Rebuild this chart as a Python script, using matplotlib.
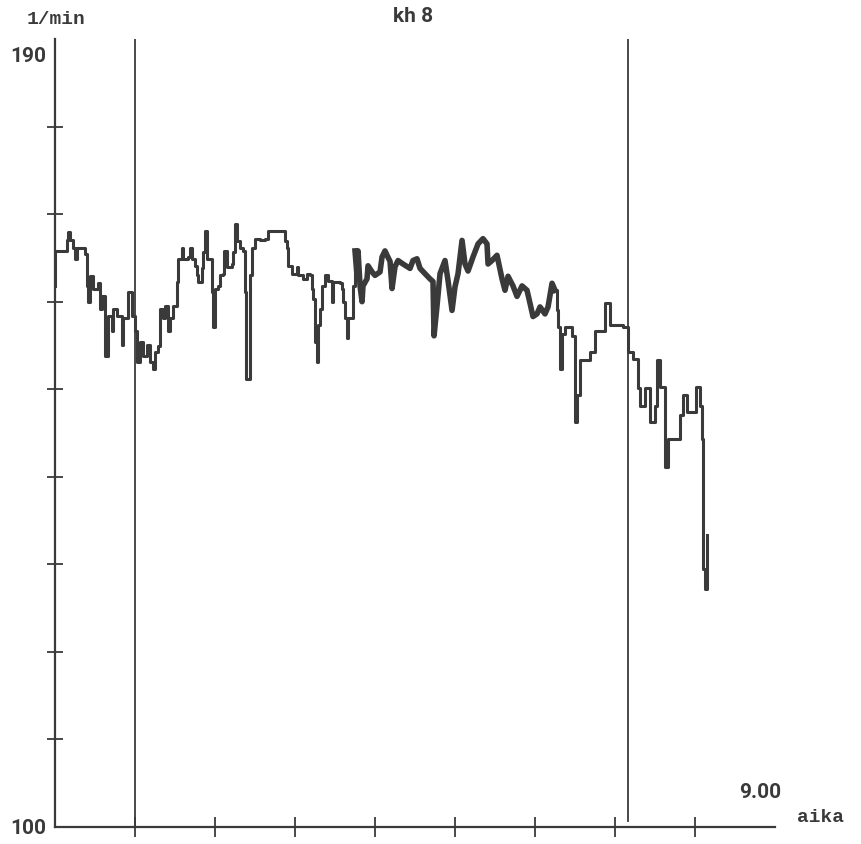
import numpy as np
import matplotlib.pyplot as plt

# aika (tick units) ja virtaama l/min, luettu kuvasta
aika = [0.000, 0.000, 0.125, 0.150, 0.163, 0.188, 0.225, 0.250, 0.275, 0.350,
        0.375, 0.400, 0.413, 0.438, 0.475, 0.538, 0.563, 0.588, 0.625, 0.625,
        0.663, 0.713, 0.725, 0.775, 0.838, 0.850, 0.913, 0.913, 0.963, 1.000,
        1.025, 1.063, 1.100, 1.150, 1.188, 1.225, 1.250, 1.288, 1.313, 1.350,
        1.375, 1.413, 1.438, 1.475, 1.525, 1.538, 1.563, 1.588, 1.600, 1.663,
        1.688, 1.713, 1.750, 1.775, 1.788, 1.838, 1.850, 1.875, 1.900, 1.963,
        1.975, 2.000, 2.038, 2.063, 2.100, 2.113, 2.150, 2.213, 2.225, 2.250,
        2.275, 2.313, 2.350, 2.375, 2.388, 2.413, 2.438, 2.463, 2.500, 2.563,
        2.625, 2.663, 2.850, 2.875, 2.900, 2.913, 2.963, 3.025, 3.038, 3.100,
        3.150, 3.188, 3.213, 3.225, 3.250, 3.275, 3.288, 3.313, 3.338, 3.375,
        3.413, 3.463, 3.475, 3.525, 3.563, 3.588, 3.600, 3.625, 3.650, 3.663,
        3.713, 3.725, 3.750, 3.775, 3.788, 3.813, 3.838, 3.850, 3.900, 3.913,
        3.963, 4.000, 4.063, 4.088, 4.125, 4.150, 4.188, 4.213, 4.250, 4.288,
        4.350, 4.438, 4.475, 4.525, 4.563, 4.625, 4.688, 4.725, 4.738, 4.775,
        4.813, 4.875, 4.913, 4.963, 5.000, 5.038, 5.088, 5.125, 5.163, 5.225,
        5.288, 5.350, 5.400, 5.413, 5.463, 5.525, 5.588, 5.625, 5.663, 5.725,
        5.775, 5.838, 5.900, 5.938, 5.975, 6.025, 6.063, 6.125, 6.163, 6.213,
        6.250, 6.275, 6.288, 6.313, 6.338, 6.375, 6.463, 6.500, 6.525, 6.563,
        6.688, 6.750, 6.875, 6.938, 7.100, 7.163, 7.225, 7.288, 7.313, 7.375,
        7.438, 7.500, 7.525, 7.563, 7.625, 7.625, 7.663, 7.788, 7.813, 7.850,
        7.900, 8.000, 8.013, 8.063, 8.088, 8.100, 8.125, 8.150]

virtaama = [161.8, 165.8, 165.8, 167.0, 168.0, 167.0, 166.1, 164.9, 166.1, 166.1,
            165.5, 161.8, 160.0, 162.9, 161.5, 162.1, 159.2, 160.7, 159.2, 153.8,
            158.4, 156.6, 159.2, 158.4, 155.0, 158.1, 158.1, 161.1, 158.4, 156.6,
            153.1, 155.4, 153.8, 155.0, 153.1, 152.3, 154.3, 154.9, 159.2, 158.1,
            159.5, 156.6, 158.1, 159.5, 162.3, 164.9, 164.9, 166.1, 164.9, 165.1,
            166.1, 164.9, 164.1, 163.0, 162.3, 163.8, 165.7, 168.1, 164.9, 161.1,
            157.1, 161.5, 161.8, 163.0, 163.2, 165.8, 164.0, 164.3, 165.7, 168.9,
            166.9, 166.1, 165.8, 161.1, 151.2, 151.2, 163.0, 166.1, 167.2, 167.0,
            167.2, 168.1, 168.1, 166.9, 166.1, 164.1, 163.2, 164.0, 163.0, 162.6,
            163.2, 163.0, 161.5, 160.3, 155.4, 153.1, 157.3, 159.2, 161.8, 163.0,
            162.4, 160.0, 162.3, 162.3, 162.1, 161.5, 160.0, 158.1, 155.8, 158.1,
            158.1, 161.8, 165.8, 163.0, 165.8, 161.8, 160.0, 161.8, 162.6, 164.1,
            163.4, 163.0, 163.4, 165.1, 165.8, 165.3, 164.6, 161.5, 164.0, 164.7,
            164.3, 163.8, 164.7, 164.9, 163.8, 163.2, 162.6, 162.3, 156.1, 159.5,
            163.2, 164.7, 162.4, 159.0, 161.7, 163.2, 167.0, 164.3, 163.5, 165.1,
            166.6, 167.2, 166.6, 164.3, 164.7, 165.3, 162.6, 161.3, 162.9, 161.8,
            160.6, 161.8, 161.3, 159.8, 158.3, 158.6, 159.4, 158.6, 159.4, 162.1,
            161.3, 159.0, 157.1, 152.3, 156.3, 157.1, 156.1, 146.3, 149.3, 153.3,
            154.3, 156.7, 159.8, 157.3, 157.1, 154.3, 153.5, 150.1, 148.1, 150.1,
            146.3, 148.1, 153.3, 150.3, 146.3, 141.1, 144.3, 144.3, 147.0, 149.3,
            147.4, 147.4, 150.3, 148.1, 144.3, 129.5, 127.2, 133.3]

merkit = [1.0, 7.16]   # pystyviivat
x_ticks = np.arange(1, 9)
y_ticks = np.arange(110, 190, 10)

t = np.array(aika)
q = np.array(virtaama)
# keskiosa piirtyy paksuna nauhana, reunat porrasviivana
i1 = np.searchsorted(t, 3.75)
i2 = np.searchsorted(t, 6.25)

fig = plt.figure(figsize=(8.61, 8.45), dpi=100)
ax = fig.add_axes([55 / 861, 17 / 845, 720 / 861, 788 / 845])
ax.set_xlim(0, 9)
ax.set_ylim(100, 190)

col = '#3a3a3a'
ax.plot(t[:i1 + 1], q[:i1 + 1], color=col, lw=2.2, drawstyle='steps-post')
ax.plot(t[i1:i2 + 1], q[i1:i2 + 1], color=col, lw=4.0, solid_joinstyle='round')
ax.plot(t[i2:], q[i2:], color=col, lw=2.2, drawstyle='steps-post')

for m in merkit:
    ax.axvline(m, ymin=0 if m < 2 else 0.008, ymax=1.0, color=col, lw=1.3)

for s in ['top', 'right']:
    ax.spines[s].set_visible(False)
for s in ['left', 'bottom']:
    ax.spines[s].set_color(col)
    ax.spines[s].set_linewidth(1.6)

ax.set_xticks(x_ticks)
ax.set_yticks(y_ticks)
ax.tick_params(direction='inout', length=14, width=1.3, color=col,
               labelleft=False, labelbottom=False)
ax.tick_params(axis='y', length=12)

narrow = ['Roboto', 'DejaVu Sans']
mono = ['Liberation Mono', 'DejaVu Sans Mono']
kw = dict(family=narrow, weight='bold', fontsize=15, color=col, va='center')
fig.text(27 / 861, 1 - 20 / 845, '1/min', family=mono, weight='bold',
         fontsize=14, color=col, va='center', ha='left')
fig.text(413 / 861, 1 - 17 / 845, 'kh 8', ha='center', **kw)
fig.text(46 / 861, 1 - 56 / 845, '190', ha='right', **kw)
fig.text(46 / 861, 1 - 829 / 845, '100', ha='right', **kw)
fig.text(760 / 861, 1 - 793 / 845, '9.00', ha='center', **kw)
fig.text(797 / 861, 1 - 818 / 845, 'aika', family=mono, weight='bold',
         fontsize=14, color=col, va='center', ha='left')

fig.savefig('out.png', dpi=100)
